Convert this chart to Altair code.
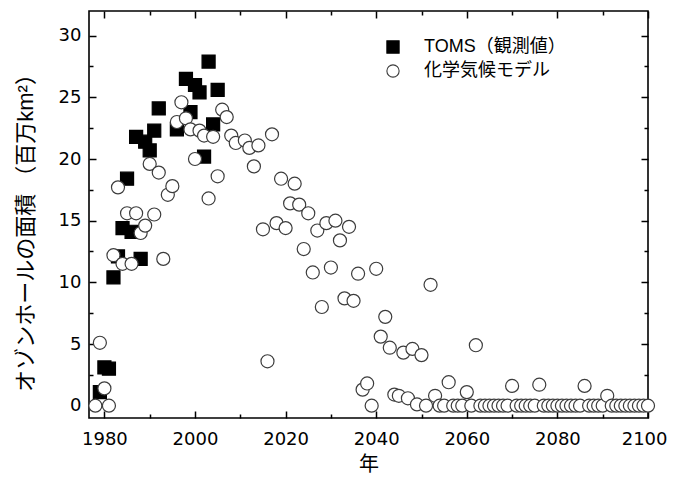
import altair as alt
import pandas as pd

# ---- data ----
toms_year = [1979, 1980, 1981, 1982, 1983, 1984, 1985, 1986, 1987, 1988, 1989,
             1990, 1991, 1992, 1996, 1998, 1999, 2000, 2001, 2002, 2003, 2004, 2005]
toms_area = [1.1, 3.1, 3.0, 10.4, 12.1, 14.4, 18.4, 14.1, 21.8, 11.9, 21.4,
             20.7, 22.3, 24.1, 22.4, 26.5, 23.8, 26.0, 25.4, 20.2, 27.9, 22.8, 25.6]

model_year = [1978, 1979, 1980, 1981, 1982, 1983, 1984, 1985, 1986, 1987, 1988, 1989,
              1990, 1991, 1992, 1993, 1994, 1995, 1996, 1997, 1998, 1999,
              2000, 2001, 2002, 2003, 2004, 2005, 2006, 2007, 2008, 2009,
              2011, 2012, 2013, 2014, 2015, 2016, 2017, 2018, 2019,
              2020, 2021, 2022, 2023, 2024, 2025, 2026, 2027, 2028, 2029,
              2030, 2031, 2032, 2033, 2034, 2035, 2036, 2037, 2038, 2039,
              2040, 2041, 2042, 2043, 2044, 2045, 2046, 2047, 2048, 2049,
              2050, 2051, 2052, 2053, 2054, 2055, 2056, 2057, 2058, 2059,
              2060, 2061, 2062, 2063, 2064, 2065, 2066, 2067, 2068, 2069,
              2070, 2071, 2072, 2073, 2074, 2075, 2076, 2077, 2078, 2079,
              2080, 2081, 2082, 2083, 2084, 2085, 2086, 2087, 2088, 2089,
              2090, 2091, 2092, 2093, 2094, 2095, 2096, 2097, 2098, 2099, 2100]
model_area = [0.0, 5.1, 1.4, 0.0, 12.2, 17.7, 11.5, 15.6, 11.5, 15.6, 14.0, 14.6,
              19.6, 15.5, 18.9, 11.9, 17.1, 17.8, 23.0, 24.6, 23.3, 22.4,
              20.0, 22.3, 21.9, 16.8, 21.8, 18.6, 24.0, 23.4, 21.9, 21.3,
              21.5, 20.9, 19.4, 21.1, 14.3, 3.6, 22.0, 14.8, 18.4,
              14.4, 16.4, 18.0, 16.3, 12.7, 15.6, 10.8, 14.2, 8.0, 14.8,
              11.2, 15.0, 13.4, 8.7, 14.5, 8.5, 10.7, 1.3, 1.8, 0.0,
              11.1, 5.6, 7.2, 4.7, 0.9, 0.8, 4.3, 0.6, 4.6, 0.1,
              4.1, 0.0, 9.8, 0.8, 0.0, 0.0, 1.9, 0.0, 0.0, 0.0,
              1.1, 0.0, 4.9, 0.0, 0.0, 0.0, 0.0, 0.0, 0.0, 0.0,
              1.6, 0.0, 0.0, 0.0, 0.0, 0.0, 1.7, 0.0, 0.0, 0.0,
              0.0, 0.0, 0.0, 0.0, 0.0, 0.0, 1.6, 0.0, 0.0, 0.0,
              0.0, 0.8, 0.0, 0.0, 0.0, 0.0, 0.0, 0.0, 0.0, 0.0, 0.0]

series_names = ["TOMS（観測値）", "化学気候モデル"]

x_major = [1980, 2000, 2020, 2040, 2060, 2080, 2100]
x_minor = [1990, 2010, 2030, 2050, 2070, 2090]
y_major = [0, 5, 10, 15, 20, 25, 30]
y_minor = [2.5, 7.5, 12.5, 17.5, 22.5, 27.5]

x_domain = [1976.6, 2100]
y_domain = [-1, 32]

x_title = "年"
y_title = "オゾンホールの面積 （百万km²）"

# ---- table ----
rows = [{"year": y, "area": a, "series": series_names[0]} for y, a in zip(toms_year, toms_area)]
rows += [{"year": y, "area": a, "series": series_names[1]} for y, a in zip(model_year, model_area)]
df = pd.DataFrame(rows)

W, H = 559, 407
NUM_FONT = "DejaVu Sans"
JP_FONT = "Liberation Sans, Noto Sans CJK JP"

xs = alt.Scale(domain=x_domain, nice=False, zero=False)
ys = alt.Scale(domain=y_domain, nice=False, zero=False)


def tick_axis(orient, values, size, labels=False, **kw):
    return alt.Axis(orient=orient, values=values, tickSize=size, offset=-size,
                    domain=False, grid=False, labels=labels, tickColor="black",
                    tickWidth=1.5, labelOverlap=False, **kw)


def legend():
    return alt.Legend(title=None, orient="none", legendX=295, legendY=27,
                      padding=0, labelFont=JP_FONT, labelFontSize=18,
                      labelColor="black", labelOffset=22, symbolSize=150,
                      symbolStrokeWidth=1.1, rowPadding=6)


base = alt.Chart(df)

points = base.mark_point(size=170, opacity=1, strokeWidth=1.2).encode(
    x=alt.X("year:Q", scale=xs,
            axis=tick_axis("bottom", x_major, 7, labels=True, format="d",
                           labelFlush=1, labelFlushOffset=19,
                           labelFont=NUM_FONT, labelFontSize=18, labelColor="black",
                           labelPadding=12, title=x_title, titleFont=JP_FONT,
                           titleFontSize=20, titleFontWeight="normal",
                           titleColor="black", titlePadding=6)),
    y=alt.Y("area:Q", scale=ys,
            axis=tick_axis("left", y_major, 7, labels=True, format="d",
                           labelFlush=False,
                           labelFont=NUM_FONT, labelFontSize=18, labelColor="black",
                           labelPadding=8, title=y_title, titleFont=JP_FONT,
                           titleFontSize=22, titleFontWeight="normal",
                           titleColor="black", titleX=-71, titleY=216,
                           titleBaseline="middle")),
    shape=alt.Shape("series:N", scale=alt.Scale(domain=series_names, range=["square", "circle"]),
                    legend=legend()),
    fill=alt.Fill("series:N", scale=alt.Scale(domain=series_names, range=["black", "white"]),
                  legend=legend()),
    stroke=alt.Stroke("series:N", scale=alt.Scale(domain=series_names, range=["black", "#3c3c3c"]),
                      legend=legend()),
)

minor_bl = base.mark_point(opacity=0).encode(
    x=alt.X("year:Q", scale=xs, axis=tick_axis("bottom", x_minor, 4, title=None)),
    y=alt.Y("area:Q", scale=ys, axis=tick_axis("left", y_minor, 4, title=None)),
)
major_tr = base.mark_point(opacity=0).encode(
    x=alt.X("year:Q", scale=xs, axis=tick_axis("top", x_major, 7, title=None)),
    y=alt.Y("area:Q", scale=ys, axis=tick_axis("right", y_major, 7, title=None)),
)
minor_tr = base.mark_point(opacity=0).encode(
    x=alt.X("year:Q", scale=xs, axis=tick_axis("top", x_minor, 4, title=None)),
    y=alt.Y("area:Q", scale=ys, axis=tick_axis("right", y_minor, 4, title=None)),
)

chart = alt.layer(minor_bl, major_tr, minor_tr, points).resolve_axis(
    x="independent", y="independent"
).properties(
    width=W, height=H,
    padding={"left": 81, "top": 3, "right": 19, "bottom": 57},
    autosize=alt.AutoSizeParams(type="none"),
    background="white",
).configure_view(stroke="black", strokeWidth=1.6)

chart.save("out.html", embed_options={"renderer": "svg", "actions": False})
